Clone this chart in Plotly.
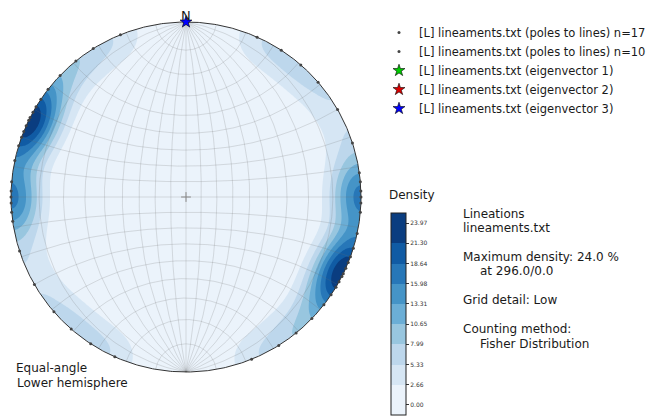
import numpy as np
import plotly.graph_objects as go

# ---------------- data ----------------
set1_trend = [82, 85, 88, 90, 92, 95, 102, 107, 110, 112, 114, 116, 117, 119, 121, 124, 128]
set1_plunge = [0, 0, 0, 0, 0, 0, 0, 0, 0, 0, 0, 0, 0, 0, 0, 0, 0]
set2_trend = [24, 33, 41, 49, 60, 72, 134, 141, 148, 158]
set2_plunge = [0, 0, 0, 0, 0, 0, 0, 0, 0, 0]
set1_name = "[L] lineaments.txt (poles to lines) n=17"
set2_name = "[L] lineaments.txt (poles to lines) n=10"

eigen_names = ["[L] lineaments.txt (eigenvector 1)",
               "[L] lineaments.txt (eigenvector 2)",
               "[L] lineaments.txt (eigenvector 3)"]
eigen_colors = ["#00cc00", "#dd0000", "#0000ff"]
eigen_trend = [None, None, 0.0]     # eigenvectors 1 and 2 are not drawn on the net
eigen_plunge = [None, None, 0.0]

density_levels = [0.00, 2.66, 5.33, 7.99, 10.65, 13.31, 15.98, 18.64, 21.30, 23.97]
density_colors = ["#ebf3fb", "#d6e6f4", "#bdd7ec", "#98c6df", "#6baed6",
                  "#4594c7", "#2777b8", "#105ba4", "#0a3d80"]
max_density = 23.97
fisher_kappa = 60.0

info_lines = ["Lineations", "lineaments.txt", "Maximum density: 24.0 %",
              "at 296.0/0.0", "Grid detail: Low", "Counting method:",
              "Fisher Distribution"]

# ---------------- geometry helpers ----------------
W, H = 655, 419
OFFX, OFFY = 6, 8          # page offset of the figure inside the browser window
CX, CY, RPX = 184, 197, 175
LIM = 1.01
FONT = "DejaVu Sans"


def px(x):
    return (x - OFFX) / W


def py(y):
    return 1 - (y - OFFY) / H


def to_vec(trend, plunge):
    t = np.radians(np.asarray(trend, float))
    p = np.radians(np.asarray(plunge, float))
    return np.stack([np.cos(p) * np.sin(t), np.cos(p) * np.cos(t), np.sin(p)], axis=-1)


def project(v):
    v = np.where(v[..., 2:3] < 0, -v, v)
    d = 1 + v[..., 2]
    return v[..., 0] / d, v[..., 1] / d


def axial_points(trend, plunge):
    v = to_vec(trend, plunge)
    x1, y1 = project(v)
    # horizontal lines reach the primitive at both ends
    x2, y2 = -v[..., 0], -v[..., 1]
    return np.concatenate([x1, x2]), np.concatenate([y1, y2])


# ---------------- density ----------------
g = np.linspace(-1.0, 1.0, 261)
X, Y = np.meshgrid(g, g)
R2 = X ** 2 + Y ** 2
sc = np.where(R2 > 1, 1 / np.sqrt(np.maximum(R2, 1e-12)), 1.0)
Xc, Yc = X * sc, Y * sc
R2c = Xc ** 2 + Yc ** 2
gv = np.stack([2 * Xc / (1 + R2c), 2 * Yc / (1 + R2c), (1 - R2c) / (1 + R2c)], -1)
dv = to_vec(set1_trend + set2_trend, set1_plunge + set2_plunge)
cosd = np.abs(gv @ dv.T)
dens = np.exp(fisher_kappa * (cosd - 1)).sum(-1)
dens = dens / dens.max() * max_density

# plotly contour colormap: band k is sampled at (k+1)/(nlevels)
nlev = len(density_levels)
bounds = [0.0] + [(k + 1.5) / nlev for k in range(len(density_colors) - 1)] + [1.0]
cscale = []
for k, c in enumerate(density_colors):
    cscale += [[bounds[k], c], [bounds[k + 1], c]]

fig = go.Figure()
fig.add_trace(go.Contour(
    x=g, y=g, z=dens, autocontour=False,
    contours=dict(start=density_levels[0], end=density_levels[-1],
                  size=(density_levels[-1] - density_levels[0]) / (nlev - 1),
                  coloring="fill", showlines=False),
    line=dict(width=0, smoothing=1),
    colorscale=cscale, showlegend=False, hoverinfo="skip",
    colorbar=dict(thickness=15, len=202, lenmode="pixels",
                  x=px(389), xanchor="left", xpad=0,
                  y=py(415), yanchor="bottom", ypad=0,
                  outlinewidth=1, outlinecolor="#222",
                  tickvals=density_levels,
                  ticktext=["%.2f" % v for v in density_levels],
                  tickfont=dict(family=FONT, size=6, color="#333"),
                  ticks="outside", ticklen=3, tickcolor="#333"),
))

# white mask outside the primitive circle
th = np.linspace(0, -2 * np.pi, 361)
mx = [1.0, 3, 3, -3, -3, 3, 3, 1.0] + list(np.cos(th))
my = [0.0, 0, 3, 3, -3, -3, 0, 0.0] + list(np.sin(th))
fig.add_trace(go.Scatter(x=mx, y=my, mode="lines", fill="toself", fillcolor="white",
                         line=dict(width=0, color="white"), showlegend=False, hoverinfo="skip"))

# Wulff net grid
gx, gy = [], []
s = np.linspace(0, np.pi, 181)
for dip in range(10, 180, 10):
    d = np.radians(dip)
    v = np.stack([np.sin(s) * np.cos(d), np.cos(s), np.sin(s) * np.sin(d)], -1)
    xx, yy = project(v)
    gx += list(xx) + [None]
    gy += list(yy) + [None]
for ca in range(10, 180, 10):
    c = np.radians(ca)
    v = np.stack([np.sin(c) * np.cos(s), np.full_like(s, np.cos(c)), np.sin(c) * np.sin(s)], -1)
    xx, yy = project(v)
    gx += list(xx) + [None]
    gy += list(yy) + [None]
fig.add_trace(go.Scatter(x=gx, y=gy, mode="lines", line=dict(color="rgba(110,110,110,0.30)", width=0.7),
                         showlegend=False, hoverinfo="skip"))

# primitive circle
tc = np.linspace(0, 2 * np.pi, 721)
fig.add_trace(go.Scatter(x=np.cos(tc), y=np.sin(tc), mode="lines", line=dict(color="#333", width=1),
                         showlegend=False, hoverinfo="skip", cliponaxis=False))

# center cross
fig.add_trace(go.Scatter(x=[0], y=[0], mode="markers",
                         marker=dict(symbol="cross-thin", size=7, line=dict(color="#888", width=1)),
                         showlegend=False, hoverinfo="skip"))

# data points
for tr, pl, nm in [(set1_trend, set1_plunge, set1_name), (set2_trend, set2_plunge, set2_name)]:
    xx, yy = axial_points(tr, pl)
    fig.add_trace(go.Scatter(x=xx, y=yy, mode="markers", name=nm, cliponaxis=False,
                             marker=dict(size=3, color="#444")))

# eigenvectors
for nm, col, tr, pl in zip(eigen_names, eigen_colors, eigen_trend, eigen_plunge):
    if tr is None:
        ex, ey = [None], [None]
    else:
        ex, ey = project(to_vec([tr], [pl]))
        ex, ey = list(ex), list(ey)
    fig.add_trace(go.Scatter(x=ex, y=ey, mode="markers", name=nm, cliponaxis=False,
                             marker=dict(symbol="star", size=9, color=col,
                                         line=dict(color="#000", width=0.6))))

ann = []


def text(x, y, t, size=12, anchor="left"):
    ann.append(dict(x=px(x), y=py(y), xref="paper", yref="paper", text=t, showarrow=False,
                    xanchor=anchor, yanchor="middle", font=dict(family=FONT, size=size, color="#1a1a1a")))


text(184, 15, "N", 13, "center")
text(12, 368, "Equal-angle")
text(13, 383, "Lower hemisphere")
text(385, 195, "Density")
text(459, 214, info_lines[0])
text(459, 228, info_lines[1])
text(459, 257, info_lines[2])
text(476, 271, info_lines[3])
text(459, 300, info_lines[4])
text(459, 329, info_lines[5])
text(476, 344, info_lines[6])

fig.update_layout(
    width=W, height=H, margin=dict(l=0, r=0, t=0, b=0),
    paper_bgcolor="white", plot_bgcolor="white",
    xaxis=dict(domain=[px(CX - LIM * RPX), px(CX + LIM * RPX)], range=[-LIM, LIM], visible=False, fixedrange=True),
    yaxis=dict(domain=[py(CY + LIM * RPX), py(CY - LIM * RPX)], range=[-LIM, LIM], visible=False, fixedrange=True),
    legend=dict(x=px(377), y=py(18), xanchor="left", yanchor="top", bgcolor="rgba(0,0,0,0)",
                font=dict(family=FONT, size=11.5, color="#1a1a1a"), tracegroupgap=0),
    annotations=ann,
    font=dict(family=FONT),
)

fig.write_html("out.html")
